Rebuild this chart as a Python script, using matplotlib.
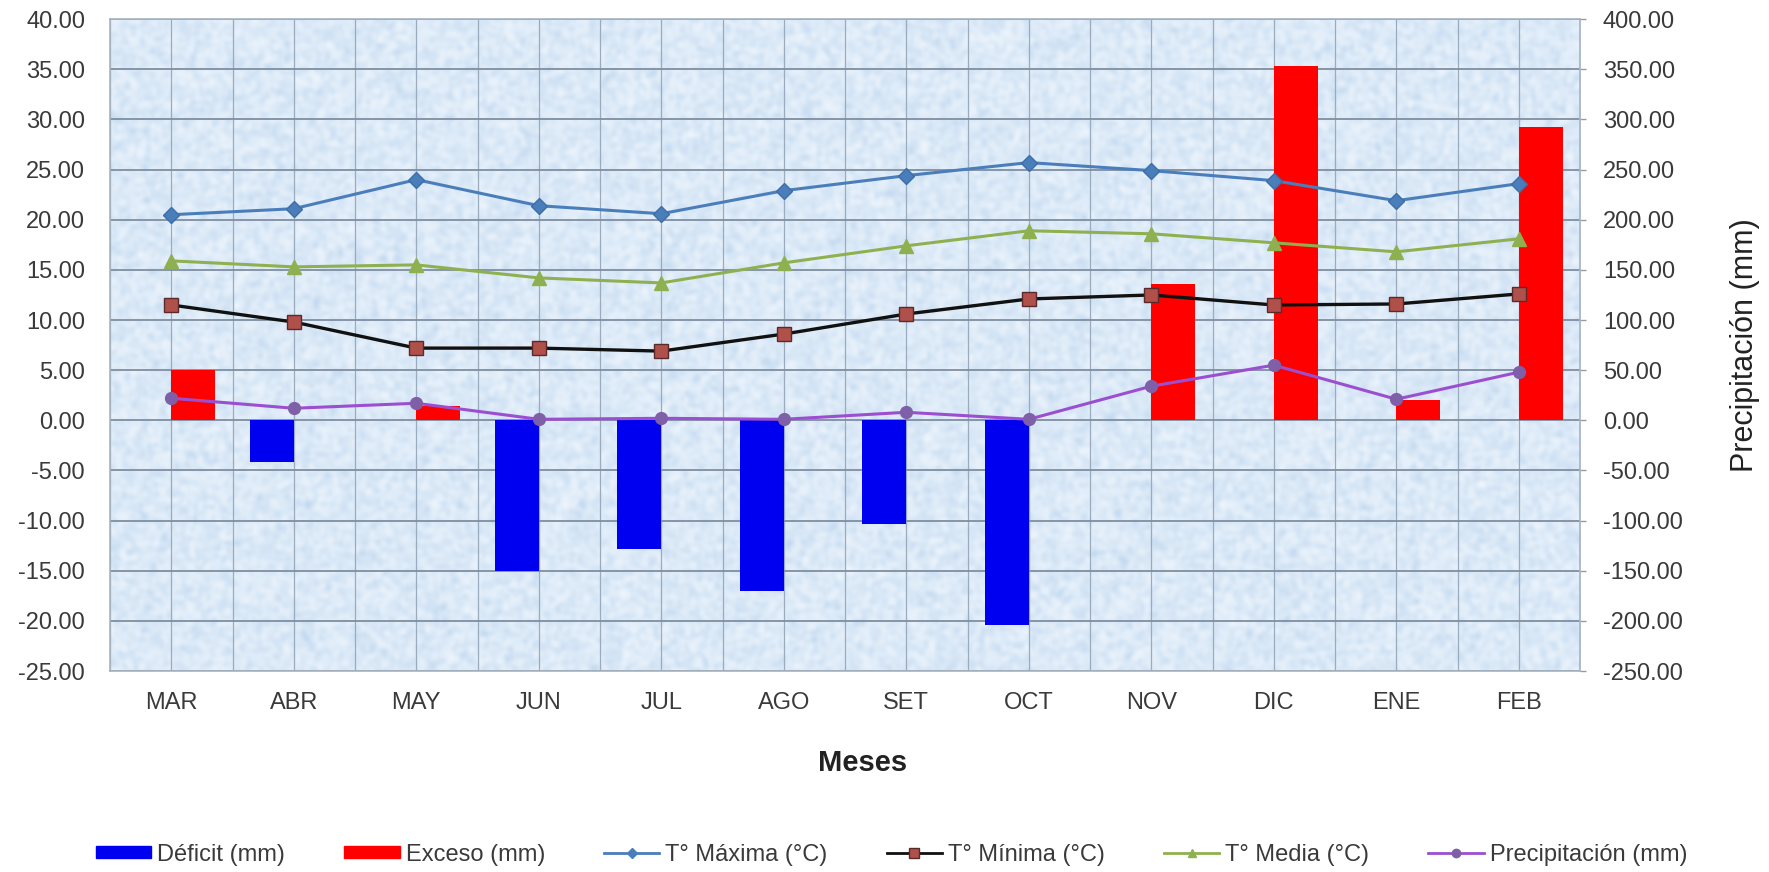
import numpy as np
import matplotlib.pyplot as plt
from matplotlib.lines import Line2D
from matplotlib.patches import Patch
from matplotlib.ticker import FormatStrFormatter, MultipleLocator

plt.rcParams['font.family'] = ['Liberation Sans', 'DejaVu Sans']

# Monthly climate balance data
meses = ["MAR", "ABR", "MAY", "JUN", "JUL", "AGO", "SET", "OCT", "NOV", "DIC", "ENE", "FEB"]
t_max = [20.5, 21.1, 24.0, 21.4, 20.6, 22.9, 24.4, 25.7, 24.9, 23.9, 21.9, 23.6]
t_min = [11.5, 9.8, 7.2, 7.2, 6.9, 8.6, 10.6, 12.1, 12.5, 11.5, 11.6, 12.6]
t_media = [15.9, 15.3, 15.5, 14.2, 13.7, 15.7, 17.4, 18.9, 18.6, 17.7, 16.8, 18.1]
precipitacion = [22, 12, 17, 1, 2, 1, 8, 1, 34, 55, 21, 48]
deficit = [0, -42, 0, -150, -128, -170, -103, -204, 0, 0, 0, 0]
exceso = [50, 0, 14, 0, 0, 0, 0, 0, 136, 353, 20, 292]

TXT = '#3a3a3a'
x = np.arange(len(meses))
w = 0.36

fig = plt.figure(figsize=(17.69, 8.72), dpi=100)
rect = [0.0622, 0.2305, 0.831, 0.7475]

# paper-like light blue background
rng = np.random.default_rng(11)
noise = rng.random((330, 740))
for _ in range(3):
    noise = (noise + np.roll(noise, 1, 0) + np.roll(noise, -1, 0)
             + np.roll(noise, 1, 1) + np.roll(noise, -1, 1)) / 5
noise = (noise - noise.min()) / (noise.max() - noise.min())
light = np.array([0.93, 0.96, 0.99])
dark = np.array([0.76, 0.85, 0.94])
tex = light + (dark - light) * noise[..., None] ** 1.3
bg = fig.add_axes(rect, zorder=0)
bg.imshow(tex, aspect='auto', interpolation='bilinear')
bg.axis('off')

ax = fig.add_axes(rect)
ax2 = ax.twinx()
ax2.set_zorder(1)
ax.set_zorder(2)
ax.patch.set_visible(False)
ax2.patch.set_visible(False)

# grid
for gx in np.arange(-0.5, len(meses), 0.5):
    ax2.axvline(gx, color='#9aabbd', lw=0.9, zorder=0.5)
ax2.yaxis.grid(True, color='#7f8ea0', lw=1.3, zorder=0.5)
ax2.set_axisbelow(True)

# water balance bars (mm)
ax2.bar(x - w / 2, deficit, w, color='#0000f0', zorder=2)
ax2.bar(x + w / 2, exceso, w, color='#ff0000', zorder=2)
ax2.plot(x, precipitacion, color='#9b4fd0', lw=2.2, marker='o', ms=8.5,
         mfc='#7f5fa8', mec='#7f5fa8', zorder=3)

# temperatures (°C)
ax.plot(x, t_max, color='#4a7ebb', lw=2.2, marker='D', ms=8,
        mfc='#4a7ebb', mec='#3d6ea8')
ax.plot(x, t_min, color='#111111', lw=2.4, marker='s', ms=9.5,
        mfc='#b0504a', mec='#5a2a2a')
ax.plot(x, t_media, color='#8fb050', lw=2.2, marker='^', ms=10,
        mfc='#8fb050', mec='#8fb050')

ax.set_xlim(-0.5, len(meses) - 0.5)
ax.set_ylim(-25, 40)
ax2.set_ylim(-250, 400)
ax.yaxis.set_major_locator(MultipleLocator(5))
ax2.yaxis.set_major_locator(MultipleLocator(50))
ax.yaxis.set_major_formatter(FormatStrFormatter('%.2f'))
ax2.yaxis.set_major_formatter(FormatStrFormatter('%.2f'))
ax.set_xticks(x)
ax.set_xticklabels(meses)

ax.tick_params(axis='y', length=0, pad=18, labelsize=17, labelcolor=TXT)
ax.tick_params(axis='x', length=0, pad=15, labelsize=17, labelcolor=TXT)
ax2.tick_params(axis='y', length=4.5, width=1, color='#9a9a9a', pad=12,
                labelsize=17, labelcolor=TXT)

for a in (ax, ax2):
    for s in a.spines.values():
        s.set_visible(False)
for s in ('left', 'right', 'top', 'bottom'):
    ax2.spines[s].set_visible(True)
    ax2.spines[s].set_color('#a8b4c0')
    ax2.spines[s].set_linewidth(1.2)

ax.set_xlabel('Meses', fontsize=21, fontweight='bold', color='#222222', labelpad=25)
ax.xaxis.label.set_x(0.512)
ax2.set_ylabel('Precipitación (mm)', fontsize=22, color='#222222', labelpad=34)

handles = [
    Patch(color='#0000f0'),
    Patch(color='#ff0000'),
    Line2D([], [], color='#4a7ebb', lw=2, marker='D', ms=5, mfc='#4a7ebb'),
    Line2D([], [], color='#111111', lw=2, marker='s', ms=7, mfc='#b0504a', mec='#5a2a2a'),
    Line2D([], [], color='#8fb050', lw=2, marker='^', ms=6, mfc='#8fb050', mec='#8fb050'),
    Line2D([], [], color='#9b4fd0', lw=2, marker='o', ms=6, mfc='#7f5fa8', mec='#7f5fa8'),
]
labels = ['Déficit (mm)', 'Exceso (mm)', 'T° Máxima (°C)', 'T° Mínima (°C)',
          'T° Media (°C)', 'Precipitación (mm)']
leg = fig.legend(handles, labels, loc='center', bbox_to_anchor=(0.504, 0.02),
                 ncol=6, frameon=False, fontsize=17, handlelength=2.35,
                 handleheight=0.45, columnspacing=2.5, handletextpad=0.25)
for t in leg.get_texts():
    t.set_color(TXT)

fig.savefig('out.png', dpi=100)
